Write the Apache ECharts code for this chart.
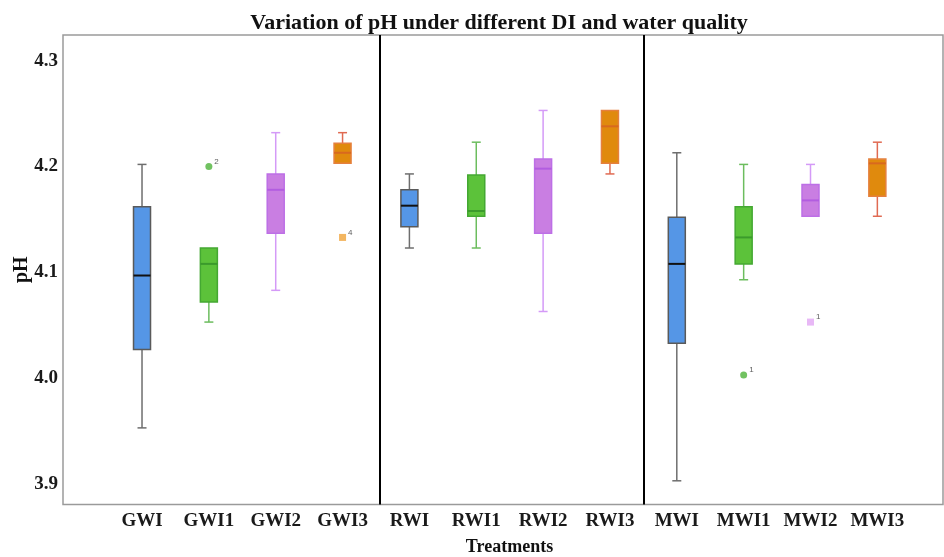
<!DOCTYPE html>
<html>
<head>
<meta charset="utf-8">
<script src="https://cdn.jsdelivr.net/npm/echarts@6/dist/echarts.min.js"></script>
<style>
  html, body { margin: 0; padding: 0; background: #fff; }
  #chart { width: 944px; height: 557px; }
</style>
</head>
<body>
<div id="chart"></div>
<script>
// treatments and box statistics
const treatments = ['GWI', 'GWI1', 'GWI2', 'GWI3', 'RWI', 'RWI1', 'RWI2', 'RWI3', 'MWI', 'MWI1', 'MWI2', 'MWI3'];
const mins    = [3.953, 4.053, 4.083, 4.203, 4.123, 4.123, 4.063, 4.193, 3.903, 4.093, 4.153, 4.153];
const q1s     = [4.027, 4.072, 4.137, 4.203, 4.143, 4.153, 4.137, 4.203, 4.033, 4.108, 4.153, 4.172];
const medians = [4.097, 4.108, 4.178, 4.213, 4.163, 4.158, 4.198, 4.238, 4.108, 4.133, 4.168, 4.203];
const q3s     = [4.162, 4.123, 4.193, 4.222, 4.178, 4.192, 4.207, 4.253, 4.152, 4.162, 4.183, 4.207];
const maxs    = [4.202, 4.123, 4.232, 4.232, 4.193, 4.223, 4.253, 4.253, 4.213, 4.202, 4.202, 4.223];

// outliers
const outlierTreatment = ['GWI1', 'GWI3', 'MWI1', 'MWI2'];
const outlierValue     = [4.200, 4.133, 4.003, 4.053];
const outlierCase      = ['2', '4', '1', '1'];

const yTicks = [3.9, 4.0, 4.1, 4.2, 4.3];

// colours per DI level (I, I1, I2, I3)
const boxStyles = [
  { fill: '#5596e6', border: '#5a5a5a', whisker: '#6e6e6e', median: '#111' },
  { fill: '#5cc23a', border: '#44a832', whisker: '#6cbd5e', median: '#3b9a2c' },
  { fill: '#c97ee2', border: '#bd6fe6', whisker: '#d49af7', median: '#b25de0' },
  { fill: '#e08a0d', border: '#e5803e', whisker: '#e06a52', median: '#d8691f' }
];
const outlierStyles = {
  GWI1: { symbol: 'circle', size: 7, color: '#4db33a' },
  GWI3: { symbol: 'star', size: 7, color: '#f0a43a' },
  MWI1: { symbol: 'circle', size: 7, color: '#4db33a' },
  MWI2: { symbol: 'star', size: 7, color: '#e2a6f4' }
};

const boxData = treatments.map((t, i) => [i + 1, mins[i], q1s[i], medians[i], q3s[i], maxs[i]]);
const outlierData = outlierTreatment.map((t, i) => {
  const st = outlierStyles[t];
  return {
    value: [treatments.indexOf(t) + 1, outlierValue[i]],
    symbol: st.symbol,
    symbolSize: st.size,
    itemStyle: { color: st.color },
    label: { formatter: outlierCase[i] }
  };
});

const serif = '"Liberation Serif", "Times New Roman", serif';

function renderBox(params, api) {
  const x = api.value(0);
  const pMin = api.coord([x, api.value(1)]);
  const pQ1 = api.coord([x, api.value(2)]);
  const pMed = api.coord([x, api.value(3)]);
  const pQ3 = api.coord([x, api.value(4)]);
  const pMax = api.coord([x, api.value(5)]);
  const st = boxStyles[params.dataIndex % 4];
  const half = 8.5, cap = 4.5, cx = pMed[0];
  const children = [];
  if (pMin[1] - pQ1[1] > 0.5) {
    children.push({ type: 'line', shape: { x1: cx, y1: pQ1[1], x2: cx, y2: pMin[1] }, style: { stroke: st.whisker, lineWidth: 1.5 } });
    children.push({ type: 'line', shape: { x1: cx - cap, y1: pMin[1], x2: cx + cap, y2: pMin[1] }, style: { stroke: st.whisker, lineWidth: 1.5 } });
  }
  if (pQ3[1] - pMax[1] > 0.5) {
    children.push({ type: 'line', shape: { x1: cx, y1: pQ3[1], x2: cx, y2: pMax[1] }, style: { stroke: st.whisker, lineWidth: 1.5 } });
    children.push({ type: 'line', shape: { x1: cx - cap, y1: pMax[1], x2: cx + cap, y2: pMax[1] }, style: { stroke: st.whisker, lineWidth: 1.5 } });
  }
  children.push({ type: 'rect', shape: { x: cx - half, y: pQ3[1], width: half * 2, height: pQ1[1] - pQ3[1] }, style: { fill: st.fill, stroke: st.border, lineWidth: 1.5 } });
  children.push({ type: 'line', shape: { x1: cx - half, y1: pMed[1], x2: cx + half, y2: pMed[1] }, style: { stroke: st.median, lineWidth: 2 } });
  return { type: 'group', children: children };
}

const chart = echarts.init(document.getElementById('chart'));
const option = {
  backgroundColor: '#fff',
  animation: false,
  title: {
    text: 'Variation of pH under different DI and water quality',
    left: 494,
    textAlign: 'center',
    top: 7,
    textStyle: { fontFamily: serif, fontWeight: 'bold', fontSize: 22, color: '#111' }
  },
  grid: {
    left: 63, right: 1, top: 35, bottom: 52.5,
    show: true, borderColor: '#9a9a9a', borderWidth: 1.5,
    outerBoundsMode: 'none'
  },
  xAxis: {
    type: 'value',
    min: -0.182,
    max: 12.982,
    name: 'Treatments',
    nameLocation: 'middle',
    nameGap: 34,
    nameTextStyle: { fontFamily: serif, fontWeight: 'bold', fontSize: 18, color: '#111', padding: [0, 0, 0, 13] },
    axisLine: { show: false },
    axisTick: { show: false },
    splitLine: { show: false },
    axisLabel: {
      customValues: treatments.map((t, i) => i + 1),
      formatter: v => treatments[Math.round(v) - 1] || '',
      margin: 7,
      fontFamily: serif, fontWeight: 'bold', fontSize: 19, color: '#1a1a1a'
    }
  },
  yAxis: {
    type: 'value',
    min: 3.8806,
    max: 4.3243,
    name: 'pH',
    nameLocation: 'middle',
    nameGap: 31,
    nameMoveOverlap: false,
    nameTextStyle: { fontFamily: serif, fontWeight: 'bold', fontSize: 20, color: '#111' },
    axisLine: { show: false },
    axisTick: { show: false },
    splitLine: { show: false },
    axisLabel: {
      customValues: yTicks,
      formatter: v => v.toFixed(1),
      margin: 5,
      fontFamily: serif, fontWeight: 'bold', fontSize: 19, color: '#1a1a1a'
    }
  },
  series: [
    {
      type: 'custom',
      name: 'pH',
      renderItem: renderBox,
      encode: { x: 0, y: [1, 2, 3, 4, 5] },
      data: boxData,
      z: 3
    },
    {
      type: 'scatter',
      name: 'outliers',
      data: outlierData,
      z: 4,
      label: {
        show: true,
        position: 'right',
        offset: [-3, -5],
        fontSize: 8,
        fontFamily: 'Arial, sans-serif',
        color: '#333'
      },
      markLine: {
        silent: true,
        symbol: 'none',
        label: { show: false },
        lineStyle: { color: '#000', width: 2, type: 'solid' },
        data: [{ xAxis: 4.56 }, { xAxis: 8.51 }]
      }
    }
  ]
};
chart.setOption(option);
</script>
</body>
</html>
